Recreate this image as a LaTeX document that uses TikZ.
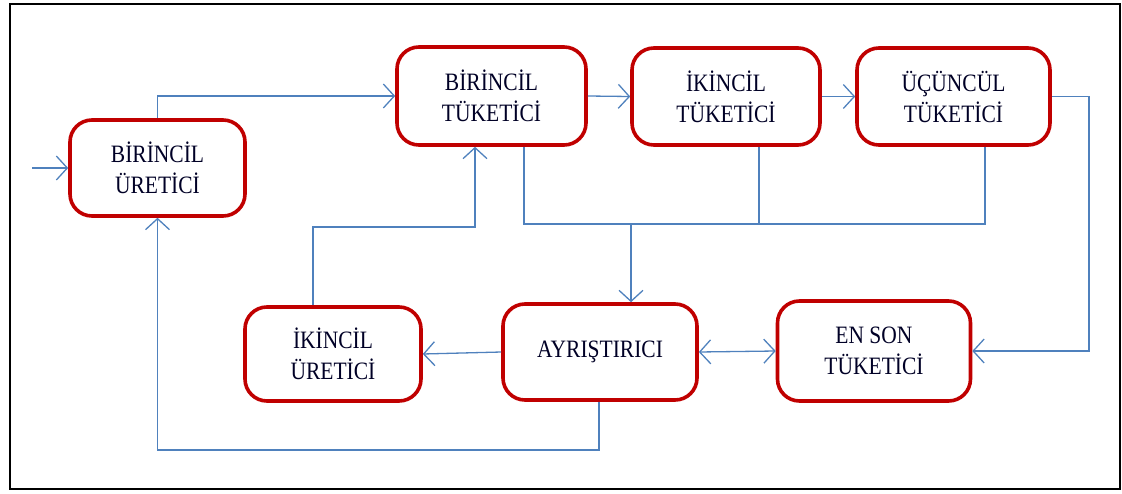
\documentclass[tikz,border=0pt]{standalone}
\usepackage{fontspec}
\setmainfont{Liberation Serif}
\newfontfamily\boxfont[FakeStretch=0.86]{Liberation Serif}
\usetikzlibrary{arrows.meta}
\definecolor{boxred}{RGB}{192,0,0}
\definecolor{lineblue}{RGB}{79,129,189}
\tikzset{
  box/.style={draw=boxred, line width=3.6pt, rounded corners=22pt, fill=white,
    align=center, inner sep=0pt, font=\boxfont\fontsize{25}{31}\selectfont, text=black!85!blue},
  conn/.style={draw=lineblue, line width=1.3pt},
  arr/.style={conn, -{Straight Barb[length=11pt,width=24pt,line width=1.3pt]}},
  arrtwo/.style={conn, {Straight Barb[length=11pt,width=24pt,line width=1.3pt]}-{Straight Barb[length=11pt,width=24pt,line width=1.3pt]}}
}
\begin{document}
\begin{tikzpicture}[x=1pt,y=-1pt]
\useasboundingbox (0,0) rectangle (1122,493);
\draw[line width=2.6pt] (10,4) rectangle (1120,489);

\node[box, minimum width=175pt, minimum height=96pt] (bu) at (157.5,168) {BİRİNCİL\\ÜRETİCİ};
\node[box, minimum width=189pt, minimum height=98pt] (bt) at (491.5,96) {BİRİNCİL\\TÜKETİCİ};
\node[box, minimum width=188pt, minimum height=97pt] (it) at (726,96.5) {İKİNCİL\\TÜKETİCİ};
\node[box, minimum width=193pt, minimum height=97pt] (ut) at (953.5,96.5) {ÜÇÜNCÜL\\TÜKETİCİ};
\node[box, minimum width=176pt, minimum height=94pt] (iu) at (333,354) {İKİNCİL\\ÜRETİCİ};
\node[box, minimum width=194pt, minimum height=96pt] (ay) at (600,352) {AYRIŞTIRICI};
\node[box, minimum width=193pt, minimum height=100pt] (es) at (874,351) {EN SON\\TÜKETİCİ};

\coordinate (in) at (32,168);
\coordinate (rt) at (1089,96.5);
\coordinate (busL) at (524,224);
\coordinate (busI) at (759,224);
\coordinate (busR) at (985,224);
\coordinate (busM) at (631,224);
\coordinate (c1) at (313,227);
\coordinate (c2) at (475,227);
\coordinate (c3) at (599,450);

\draw[arr] (in) -- (bu.west);
\draw[arr] (bu.north) |- (bt.west);
\draw[arr] (bt.east) -- (it.west);
\draw[arr] (it.east) -- (ut.west);
\draw[arr] (ut.east) -- (rt) |- (es.east);
\draw[conn] (bt.south -| busL) -- (busL) -- (busR) -- (ut.south -| busR);
\draw[conn] (it.south -| busI) -- (busI);
\draw[arr, line width=2pt] (busM) -- (ay.north -| busM);
\draw[arr] (iu.north -| c1) -- (c1) -- (c2) -- (bt.south -| c2);
\draw[arr] (ay.west) -- (iu.east);
\draw[arrtwo] (ay.east) -- (es.west);
\draw[arr] (ay.south -| c3) -- (c3) -| (bu.south);
\end{tikzpicture}
\end{document}
